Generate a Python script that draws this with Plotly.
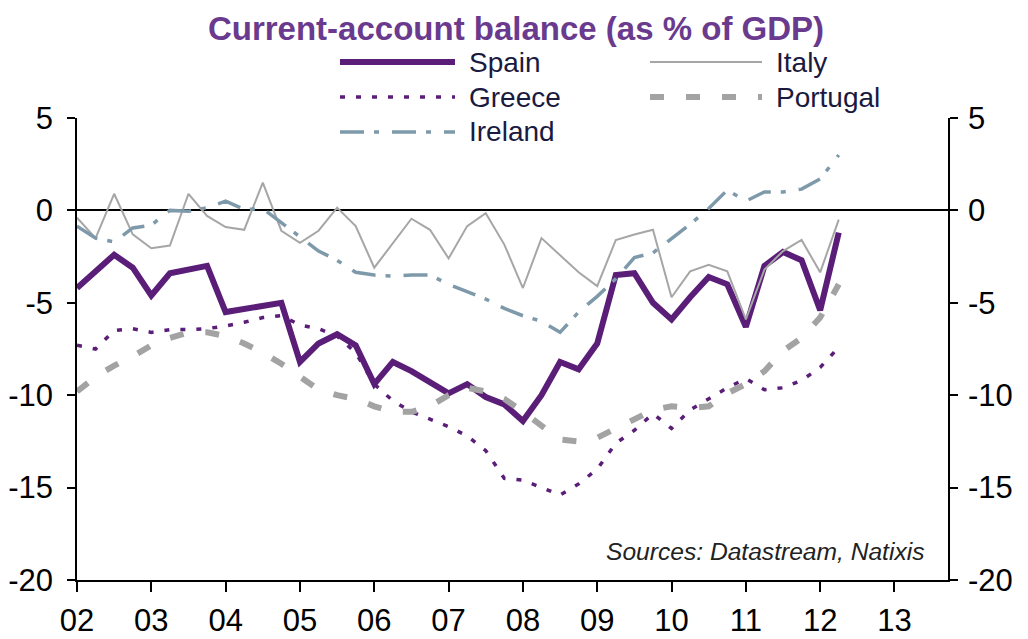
import plotly.graph_objects as go

# ---------------- data (quarterly, 2002Q1 .. 2012Q2) ----------------
quarters = [f"{y}Q{q}" for y in range(2002, 2013) for q in range(1, 5)][:42]

spain = [-4.2, -3.3, -2.4, -3.1, -4.6, -3.4, -3.2, -3.0, -5.5, -5.35, -5.2, -5.0,
         -8.2, -7.2, -6.7, -7.3, -9.4, -8.2, -8.7, -9.3, -9.9, -9.4, -10.1, -10.5,
         -11.4, -10.0, -8.2, -8.6, -7.2, -3.5, -3.4, -5.0, -5.9, -4.7, -3.6, -4.0,
         -6.3, -3.0, -2.25, -2.7, -5.4, -1.2]

italy = [-0.4, -1.5, 0.9, -1.3, -2.05, -1.9, 0.9, -0.3, -0.9, -1.05, 1.5, -1.1,
         -1.75, -1.1, 0.15, -0.85, -3.1, -1.75, -0.45, -1.05, -2.6, -0.85, -0.15, -1.85,
         -4.2, -1.5, -2.45, -3.35, -4.1, -1.6, -1.3, -1.05, -4.7, -3.3, -2.95, -3.3,
         -5.9, -3.2, -2.2, -1.6, -3.35, -0.5]

greece = [-7.3, -7.5, -6.5, -6.4, -6.6, -6.45, -6.45, -6.4, -6.25, -6.05, -5.8, -5.7,
          -6.2, -6.4, -6.8, -7.7, -9.4, -10.3, -10.9, -11.3, -11.7, -12.2, -13.0, -14.5,
          -14.6, -15.0, -15.4, -14.8, -14.0, -12.6, -11.9, -11.0, -11.8, -10.8, -10.2, -9.6,
          -9.1, -9.7, -9.6, -9.2, -8.5, -7.4]

portugal = [-9.8, -9.0, -8.4, -7.9, -7.3, -6.9, -6.6, -6.6, -6.8, -7.2, -7.7, -8.3,
            -9.0, -9.7, -10.0, -10.2, -10.6, -10.9, -10.9, -10.6, -10.0, -9.6, -9.8, -10.2,
            -10.9, -11.7, -12.4, -12.5, -12.3, -11.8, -11.3, -10.8, -10.6, -10.7, -10.6, -9.9,
            -9.4, -8.7, -7.6, -6.9, -5.8, -4.0]

ireland = [-0.85, -1.5, -1.7, -0.95, -0.8, 0.0, -0.05, 0.15, 0.5, 0.05, 0.1, -0.65,
           -1.45, -2.2, -2.7, -3.35, -3.5, -3.55, -3.5, -3.5, -4.0, -4.4, -4.8, -5.3,
           -5.7, -6.0, -6.6, -5.5, -4.65, -3.7, -2.55, -2.3, -1.55, -0.75, 0.1, 1.1,
           0.5, 1.0, 1.0, 1.15, 1.7, 3.0]

year_ticks = list(range(2002, 2014))
year_labels = ["02", "03", "04", "05", "06", "07", "08", "09", "10", "11", "12", "13"]
y_ticks = [-20, -15, -10, -5, 0, 5]
y_labels = ["-20", "-15", "-10", "-5", "0", "5"]

# ---------------- styling ----------------
PURPLE = "#5A1E78"
TITLE_PURPLE = "#6A3A8E"
ITALY_GREY = "#A6A6A6"
PORT_GREY = "#A3A3A3"
IRL_BLUE = "#7E9AAA"
TXT = "#1A1A40"
FONT = "Liberation Sans, Arial, sans-serif"

x = [int(q[:4]) + (int(q[-1]) - 1) / 4 for q in quarters]

SPAIN_LN = dict(color=PURPLE, width=6)
GREECE_LN = dict(color=PURPLE, width=3.5, dash="5px,11px")
ITALY_LN = dict(color=ITALY_GREY, width=2)
IRL_LN = dict(color=IRL_BLUE, width=3.5, dash="24px,10px,5px,13px")
PORT_LN = dict(color=PORT_GREY, width=6, dash="14px,22px")

series = [
    ("Spain", spain, SPAIN_LN),
    ("Greece", greece, GREECE_LN),
    ("Italy", italy, ITALY_LN),
    ("Ireland", ireland, IRL_LN),
    ("Portugal", portugal, PORT_LN),
]

fig = go.Figure()
for name, vals, ln in series:
    fig.add_trace(go.Scatter(x=x, y=vals, mode="lines", name=name, line=ln,
                             hoverinfo="x+y+name"))
# ghost trace so the right-hand axis is drawn
fig.add_trace(go.Scatter(x=x, y=spain, mode="lines", yaxis="y2", opacity=0,
                         showlegend=False, hoverinfo="skip"))

# the page body adds an 8px offset; the figure is sized to fit the window
OFF = 8
W, H = 1028 - OFF, 639 - OFF
L, T = 77 - OFF, 118 - OFF
PW, PH = 948 - 77, 580 - 118
R, B = W - L - PW, H - T - PH


def px(xp):  # reference-window x pixel -> paper coordinate
    return (xp - OFF - L) / PW


def py(yp):  # reference-window y pixel -> paper coordinate
    return (T + PH - (yp - OFF)) / PH


# manual legend (two columns, long samples)
legend_items = [
    ("Spain", 340, 455, 62, SPAIN_LN),
    ("Italy", 650, 762, 62, ITALY_LN),
    ("Greece", 340, 455, 97, GREECE_LN),
    ("Portugal", 650, 762, 97, PORT_LN),
    ("Ireland", 340, 455, 132, IRL_LN),
]
shapes = []
annotations = []
for name, x0, x1, yy, ln in legend_items:
    shapes.append(dict(type="line", xref="paper", yref="paper",
                       x0=px(x0), x1=px(x1), y0=py(yy), y1=py(yy), line=ln))
    annotations.append(dict(text=name, xref="paper", yref="paper",
                            x=px(x1 + 12), y=py(yy), xanchor="left", yanchor="middle",
                            showarrow=False, font=dict(family=FONT, size=28, color=TXT)))

annotations.append(dict(text="<i>Sources: Datastream, Natixis</i>", xref="paper", yref="paper",
                        x=px(926), y=py(551), xanchor="right", yanchor="middle",
                        showarrow=False, font=dict(family=FONT, size=24.6, color="#222222")))

axis_common = dict(showgrid=False, showline=True, linecolor="black", linewidth=1.5,
                   ticks="outside", tickcolor="black", tickwidth=1.5,
                   tickfont=dict(family=FONT, size=31, color="black"))

fig.update_layout(
    width=W, height=H,
    margin=dict(l=L, r=R, t=T, b=B, pad=0, autoexpand=False),
    paper_bgcolor="white", plot_bgcolor="white",
    showlegend=False,
    title=dict(text="<b>Current-account balance (as % of GDP)</b>",
               x=(516 - OFF) / W, xanchor="center", xref="container",
               y=1 - 9 / H, yanchor="top", yref="container", pad=dict(t=0, b=0),
               font=dict(family=FONT, size=33, color=TITLE_PURPLE)),
    xaxis=dict(range=[2002, 2013.72], tickvals=year_ticks, ticktext=year_labels,
               ticklen=10, zeroline=False, ticklabelstandoff=2, **axis_common),
    yaxis=dict(range=[-20, 5], tickvals=y_ticks, ticktext=y_labels, ticklen=8,
               zeroline=True, zerolinecolor="black", zerolinewidth=1.5,
               ticklabelstandoff=8, **axis_common),
    yaxis2=dict(range=[-20, 5], tickvals=y_ticks, ticktext=y_labels, ticklen=8,
                overlaying="y", side="right", zeroline=False,
                ticklabelstandoff=4, **axis_common),
    shapes=shapes,
    annotations=annotations,
)

fig.write_html("out.html")
